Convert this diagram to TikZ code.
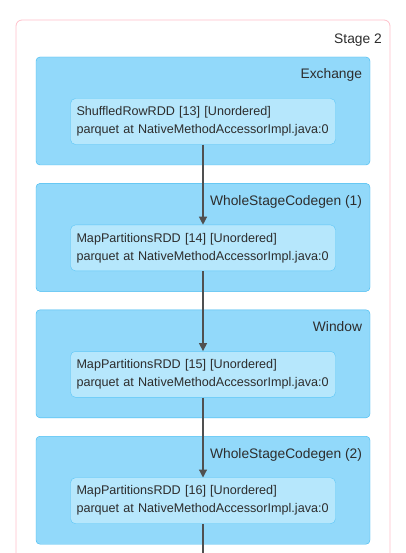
\documentclass[tikz,border=0pt]{standalone}
\usepackage{fontspec}
\setmainfont{Liberation Sans}
\usetikzlibrary{positioning,arrows.meta}
\definecolor{stageline}{RGB}{255,192,203}
\definecolor{clusterfill}{RGB}{146,217,250}
\definecolor{clusterline}{RGB}{60,184,240}
\definecolor{rddfill}{RGB}{182,231,252}
\definecolor{rddline}{RGB}{92,198,247}
\definecolor{textgray}{RGB}{45,45,45}
\definecolor{edgegray}{RGB}{80,80,80}
\begin{document}
\begin{tikzpicture}[
    x=1pt, y=-1pt,
    node distance=18pt,
    font=\fontsize{12.6}{18}\selectfont,
    text=textgray,
    cluster/.style={rectangle, rounded corners=4pt, draw=clusterline, fill=clusterfill, minimum width=334pt, minimum height=108pt, inner sep=0pt},
    rdd/.style={rectangle, rounded corners=5pt, draw=rddline, fill=rddfill, text width=253pt, inner xsep=6pt, inner ysep=0pt, minimum height=46pt, align=left},
    title/.style={anchor=base east, inner sep=0pt, font=\fontsize{13.8}{16}\selectfont},
    arrow/.style={-{Triangle[width=8pt,length=8pt]}, draw=edgegray, line width=1.2pt}
  ]
  \useasboundingbox (0,0) rectangle (405,553);
  % Define stage box
  \draw[stageline, rounded corners=6pt, line width=0.8pt, fill=white] (16,20) rectangle (390,580);
  \node[title] (stage) at (382,44) {Stage 2};

  % Define clusters
  \node[cluster] (C1) at (203,111) {};
  \node[cluster, below=of C1] (C2) {};
  \node[cluster, below=of C2] (C3) {};
  \node[cluster, below=of C3] (C4) {};
  \node[title] at ([shift={(-8,22)}]C1.north east) {Exchange};
  \node[title] at ([shift={(-8,22)}]C2.north east) {WholeStageCodegen (1)};
  \node[title] at ([shift={(-8,22)}]C3.north east) {Window};
  \node[title] at ([shift={(-8,22)}]C4.north east) {WholeStageCodegen (2)};

  % Define RDD nodes
  \node[rdd] (R1) at ([yshift=-10.5pt]C1.center) {\mbox{ShuffledRowRDD [13] [Unordered]}\\\mbox{parquet at NativeMethodAccessorImpl.java:0}};
  \node[rdd] (R2) at ([yshift=-10.5pt]C2.center) {\mbox{MapPartitionsRDD [14] [Unordered]}\\\mbox{parquet at NativeMethodAccessorImpl.java:0}};
  \node[rdd] (R3) at ([yshift=-10.5pt]C3.center) {\mbox{MapPartitionsRDD [15] [Unordered]}\\\mbox{parquet at NativeMethodAccessorImpl.java:0}};
  \node[rdd] (R4) at ([yshift=-10.5pt]C4.center) {\mbox{MapPartitionsRDD [16] [Unordered]}\\\mbox{parquet at NativeMethodAccessorImpl.java:0}};
  \coordinate (out) at (R4.south |- 0,560);

  % Draw arrows
  \draw[arrow] (R1) -- (R2);
  \draw[arrow] (R2) -- (R3);
  \draw[arrow] (R3) -- (R4);
  \draw[edgegray, line width=1.2pt] (R4) -- (out);
\end{tikzpicture}
\end{document}
